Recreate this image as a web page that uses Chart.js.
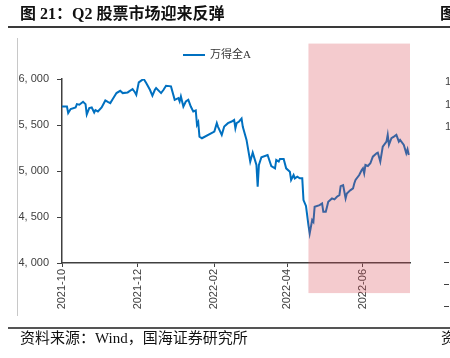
<!DOCTYPE html>
<html>
<head>
<meta charset="utf-8">
<script src="https://cdn.jsdelivr.net/npm/chart.js@4.4.1/dist/chart.umd.min.js"></script>
<style>
  body { margin: 0; background: #fff; }
  #page { position: relative; width: 450px; height: 358px; overflow: hidden; }
  #page canvas { position: absolute; left: 0; top: 0; }
  .cn { font-family: "Liberation Serif", "Noto Sans CJK SC", serif; color: #111; position: absolute; white-space: nowrap; line-height: 1; }
  .rule { position: absolute; left: 8px; width: 442px; }
  .tiny { position: absolute; font: 11px "Liberation Sans", Arial, sans-serif; color: #404040; line-height: 1; }
  .dash { position: absolute; left: 444px; width: 5px; height: 1px; background: #404040; }
</style>
</head>
<body>
<div id="page">
  <canvas id="stat_chart" width="450" height="358"></canvas>
  <div class="cn" style="left:20px;top:6px;font-size:16px;font-weight:600;">图 21：Q2 股票市场迎来反弹</div>
  <div class="cn" style="left:440px;top:6px;font-size:16px;font-weight:600;">图</div>
  <div class="rule" style="top:26px;height:2px;background:#3a3a3a;"></div>
  <div style="position:absolute;left:17px;top:38px;width:1px;height:278px;background:#c8c8c8;"></div>
  <div style="position:absolute;left:183px;top:54px;width:22px;height:2px;background:#0070C0;"></div>
  <div class="cn" style="left:210px;top:49px;font-size:11px;color:#333;">万得全A</div>
  <div class="tiny" style="left:445px;top:76px;">1</div>
  <div class="tiny" style="left:445px;top:99px;">1</div>
  <div class="tiny" style="left:445px;top:121px;">1</div>
  <div class="dash" style="top:262px;"></div>
  <div class="dash" style="top:284px;"></div>
  <div class="dash" style="top:306px;"></div>
  <div class="rule" style="top:327px;height:1.5px;background:#555;"></div>
  <div class="cn" style="left:20px;top:331px;font-size:15px;">资料来源：Wind，国海证券研究所</div>
  <div class="cn" style="left:441px;top:331px;font-size:15px;">资</div>
</div>
<script>
// days counted from 2021-10-01
const days = [0, 4, 5, 7, 11, 12, 14, 17, 19, 20, 22, 24, 26, 27, 29, 32, 35, 37, 39, 41,
  44, 47, 49, 53, 57, 59, 60, 62, 65, 66, 68, 71, 73, 75, 76, 80, 82, 84, 88, 91,
  94, 95, 96, 98, 100, 102, 104, 106, 108, 109, 110, 111, 113, 123, 125, 126, 129, 131, 134, 137,
  139, 140, 141, 143, 145, 146, 149, 152, 154, 157, 158, 159, 161, 166, 169, 172, 173, 175, 176, 179,
  181, 184, 185, 187, 188, 190, 192, 194, 195, 197, 199, 200, 202, 203, 204, 208, 210, 211, 213, 215,
  218, 220, 222, 224, 225, 227, 229, 230, 233, 235, 236, 237, 240, 242, 243, 244, 245, 247, 249, 251,
  254, 255, 257, 259, 262, 263, 264, 266, 268, 270, 272, 273, 276, 278, 279, 280];
const wantA = [5701, 5700, 5630, 5673, 5690, 5727, 5720, 5752, 5727, 5615, 5684, 5690, 5636, 5662, 5647, 5690, 5767, 5752, 5738, 5782,
  5847, 5872, 5847, 5854, 5891, 5854, 5829, 5963, 5993, 6000, 5956, 5883, 5818, 5883, 5902, 5847, 5883, 5927, 5920, 5774,
  5792, 5756, 5810, 5701, 5756, 5774, 5701, 5647, 5658, 5502, 5530, 5374, 5356, 5429, 5520, 5480, 5393, 5484, 5520, 5538,
  5556, 5465, 5520, 5538, 5570, 5480, 5338, 5102, 5200, 5065, 4829, 5065, 5149, 5174, 5054, 5029, 5120, 5102, 5131, 5131,
  5029, 4993, 4902, 4956, 4920, 4938, 4920, 4920, 4684, 4620, 4411, 4321, 4466, 4447, 4611, 4629, 4647, 4556, 4556, 4666,
  4702, 4691, 4720, 4738, 4836, 4847, 4702, 4756, 4793, 4811, 4865, 4902, 4956, 5011, 5029, 4975, 5065, 5054, 5084, 5156,
  5193, 5200, 5102, 5265, 5320, 5393, 5284, 5356, 5374, 5393, 5320, 5338, 5284, 5193, 5236, 5174];
const tickDays = [0, 61, 123, 182, 243];
const tickLabels = ['2021-10', '2021-12', '2022-02', '2022-04', '2022-06'];
const lastDay = 281;
// Q2 highlight: start/end day and vertical value span
const q2Shade = { from: 199, to: 281, top: 6385, bottom: 3673 };

const points = days.map(function (d, i) { return { x: d, y: wantA[i] }; });

const shadePlugin = {
  id: 'q2shade',
  afterDraw(chart) {
    const xs = chart.scales.x, ys = chart.scales.y, ctx = chart.ctx;
    const l = xs.getPixelForValue(q2Shade.from), r = xs.getPixelForValue(q2Shade.to);
    const t = ys.getPixelForValue(q2Shade.top), b = ys.getPixelForValue(q2Shade.bottom);
    ctx.save();
    ctx.fillStyle = 'rgba(214,70,80,0.28)';
    ctx.fillRect(l, t, r - l, b - t);
    ctx.restore();
  }
};

function fmtThousands(v) {
  const s = String(v);
  return s.length > 3 ? s.slice(0, s.length - 3) + ', ' + s.slice(-3) : s;
}

const axisColor = '#404040';
const tickFont = { family: '"Liberation Sans", Arial, sans-serif', size: 11 };

new Chart(document.getElementById('stat_chart'), {
  type: 'line',
  data: {
    datasets: [{
      label: '万得全A',
      data: points,
      borderColor: '#0070C0',
      borderWidth: 2,
      pointRadius: 0,
      tension: 0,
      fill: false
    }]
  },
  options: {
    responsive: false,
    animation: false,
    layout: { padding: { left: 17, top: 79, right: 40, bottom: 45 } },
    plugins: { legend: { display: false }, tooltip: { enabled: false } },
    scales: {
      x: {
        type: 'linear',
        min: 0,
        max: lastDay,
        afterBuildTicks(scale) { scale.ticks = tickDays.map(v => ({ value: v })); },
        afterFit(scale) { scale.height = 50; },
        ticks: {
          autoSkip: false,
          minRotation: 90,
          maxRotation: 90,
          padding: 2,
          color: axisColor,
          font: tickFont,
          callback(v) { return tickLabels[tickDays.indexOf(v)]; }
        },
        grid: { drawOnChartArea: false, drawTicks: true, tickLength: 4, tickColor: axisColor },
        border: { display: true, color: axisColor, width: 1.5 }
      },
      y: {
        min: 4000,
        max: 6000,
        afterFit(scale) { scale.width = 45; },
        ticks: {
          stepSize: 500,
          padding: 8,
          color: axisColor,
          font: tickFont,
          callback(v) { return fmtThousands(v); }
        },
        grid: { drawOnChartArea: false, drawTicks: true, tickLength: 5, tickColor: axisColor },
        border: { display: true, color: axisColor, width: 1.5 }
      }
    }
  },
  plugins: [shadePlugin]
});
</script>
</body>
</html>
